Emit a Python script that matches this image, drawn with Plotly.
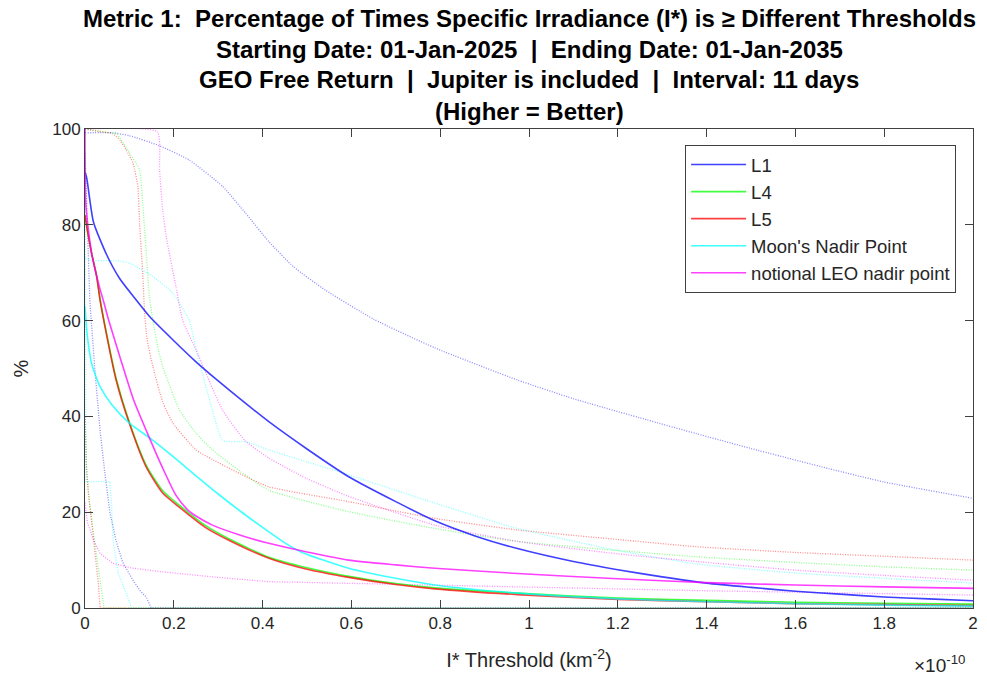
import plotly.graph_objects as go

# ---------------- data (threshold in units of 1e-10 km^-2, value in %) ----------------
# Solid curves
l1_x = [0, 0.004, 0.019, 0.049, 0.078, 0.112, 0.146, 0.2, 0.25, 0.3, 0.35, 0.414, 0.5, 0.594, 0.7, 0.788, 0.88, 0.974, 1.1, 1.2, 1.3, 1.4, 1.5, 1.6, 1.7, 1.8, 1.9, 2.0]
l1_y = [91, 89.7, 80.6, 73.7, 68.8, 64.7, 60.8, 55.8, 51.4, 47.4, 43.6, 38.9, 33.2, 27.4, 22.2, 18.2, 15.0, 12.4, 9.7, 8.0, 6.5, 5.2, 4.3, 3.5, 2.9, 2.3, 1.9, 1.5]

l4_x = [0, 0.005, 0.015, 0.026, 0.034, 0.045, 0.07, 0.1, 0.138, 0.175, 0.213, 0.27, 0.325, 0.414, 0.5, 0.594, 0.7, 0.788, 0.974, 1.2, 1.4, 1.6, 1.8, 2.0]
l4_y = [82, 79, 74, 69.5, 64.5, 59, 48, 38.8, 29.8, 24.5, 21.4, 17.3, 14.4, 10.6, 8.4, 6.6, 5.1, 4.2, 3.1, 2.1, 1.6, 1.2, 1.0, 0.8]

l5_x = [0, 0.005, 0.015, 0.026, 0.034, 0.045, 0.07, 0.1, 0.138, 0.175, 0.213, 0.27, 0.325, 0.414, 0.5, 0.594, 0.7, 0.788, 0.974, 1.2, 1.4, 1.6, 1.8, 2.0]
l5_y = [82, 79, 74, 69.3, 64.2, 58.7, 47.6, 38.5, 29.4, 24, 21, 16.9, 14.1, 10.4, 8.1, 6.4, 4.9, 4.0, 2.8, 1.8, 1.3, 0.9, 0.7, 0.5]

moon_x = [0, 0.005, 0.015, 0.034, 0.06, 0.1, 0.15, 0.2, 0.25, 0.3, 0.35, 0.414, 0.45, 0.489, 0.594, 0.7, 0.788, 0.974, 1.2, 1.4, 1.6, 1.8, 2.0]
moon_y = [63, 57, 51, 46.2, 42.5, 38.6, 35.2, 31.5, 27.6, 23.8, 20.2, 15.9, 13.6, 11.6, 8.3, 6.2, 4.8, 3.1, 1.9, 1.3, 0.9, 0.6, 0.4]

leo_x = [0, 0.002, 0.015, 0.034, 0.041, 0.052, 0.08, 0.11, 0.146, 0.175, 0.205, 0.23, 0.25, 0.287, 0.35, 0.414, 0.5, 0.594, 0.7, 0.788, 0.974, 1.2, 1.4, 1.6, 1.8, 2.0]
leo_y = [100, 84, 74, 66.5, 64.3, 60.5, 52, 43.3, 35.3, 29.2, 23.5, 20.6, 19.2, 17.3, 15.2, 13.5, 11.7, 10.0, 9.0, 8.3, 7.2, 6.1, 5.3, 4.8, 4.4, 4.1]

# Dotted curves (upper set)
l1_dot_x = [0, 0.063, 0.1, 0.168, 0.235, 0.31, 0.362, 0.414, 0.47, 0.541, 0.65, 0.788, 0.974, 1.1, 1.265, 1.377, 1.5, 1.675, 1.8, 2.0]
l1_dot_y = [99.2, 99.2, 98.6, 96.5, 93.5, 88, 82.4, 76.5, 71.2, 66.4, 60.3, 54.3, 47.6, 43.7, 39.3, 36.4, 33.3, 29.1, 26.3, 22.9]

l4_dot_x = [0, 0.05, 0.071, 0.1, 0.123, 0.13, 0.138, 0.145, 0.153, 0.165, 0.175, 0.213, 0.25, 0.287, 0.35, 0.414, 0.594, 0.788, 0.974, 1.2, 1.377, 1.6, 1.8, 2.0]
l4_dot_y = [100, 99.3, 99, 95, 91.4, 84.5, 74, 65, 60, 54, 50.4, 41.3, 36.5, 33, 28.5, 24.6, 20.1, 16.6, 13.9, 12, 10.7, 9.5, 8.6, 7.9]

l5_dot_x = [0, 0.03, 0.063, 0.08, 0.093, 0.108, 0.119, 0.123, 0.13, 0.134, 0.14, 0.153, 0.175, 0.198, 0.25, 0.287, 0.35, 0.414, 0.594, 0.788, 0.974, 1.2, 1.377, 1.6, 1.8, 2.0]
l5_dot_y = [100, 99.5, 99, 97.5, 95.6, 92.9, 88, 80, 70, 62, 56, 50.4, 43, 38.6, 33, 31, 28, 25.3, 22.2, 18.7, 16.3, 14.3, 12.8, 11.6, 10.8, 10.0]

moon_dot_x = [0, 0.002, 0.071, 0.1, 0.153, 0.198, 0.235, 0.25, 0.27, 0.287, 0.31, 0.362, 0.414, 0.5, 0.594, 0.788, 0.974, 1.2, 1.377, 1.6, 1.8, 2.0]
moon_dot_y = [100, 73, 72.5, 72, 69.2, 65.7, 60, 54, 47, 41.3, 35, 34.7, 33, 30.5, 27.8, 21.9, 16.6, 12, 9.2, 7.3, 6.2, 5.2]

leo_dot_x = [0, 0.163, 0.168, 0.175, 0.183, 0.205, 0.22, 0.25, 0.31, 0.36, 0.414, 0.5, 0.594, 0.788, 0.974, 1.2, 1.377, 1.6, 1.8, 2.0]
leo_dot_y = [100, 99.4, 91.4, 83, 77.5, 67, 60, 53.9, 41.3, 35, 31.3, 27, 23.3, 17.3, 13.9, 11.3, 9.7, 7.9, 6.8, 5.8]

# Dotted curves (lower set)
l1_low_x = [0, 0.005, 0.011, 0.022, 0.034, 0.045, 0.056, 0.07, 0.085, 0.108, 0.125, 0.138, 0.149, 2.0]
l1_low_y = [95, 80, 64, 50, 37, 28, 20, 14, 9.5, 5.8, 3.5, 2.3, 0, 0]

l4_low_x = [0, 0.004, 0.011, 0.026, 0.037, 0.043, 2.0]
l4_low_y = [40, 28, 21.2, 10.7, 3.8, 0, 0]

l5_low_x = [0, 0.003, 0.007, 0.019, 0.03, 0.034, 2.0]
l5_low_y = [40, 30, 24.6, 14.2, 5.2, 0, 0]

moon_low_x = [0, 0.002, 0.056, 0.06, 0.063, 0.075, 0.093, 0.105, 2.0]
moon_low_y = [100, 26.4, 26.4, 21.2, 14.2, 7.2, 3.1, 0, 0]

leo_low_x = [0, 0.005, 0.019, 0.034, 0.063, 0.108, 0.168, 0.287, 0.414, 0.6, 0.929, 1.4, 2.0]
leo_low_y = [22, 18, 14.2, 11.4, 9.3, 8.3, 7.6, 6.5, 5.5, 5.1, 4.5, 3.6, 2.7]

names = ["L1", "L4", "L5", "Moon's Nadir Point", "notional LEO nadir point"]
colors = ["#0000ff", "#00ff00", "#ff0000", "#00ffff", "#ff00ff"]
solid = [(l1_x, l1_y), (l4_x, l4_y), (l5_x, l5_y), (moon_x, moon_y), (leo_x, leo_y)]
dotted_hi = [(l1_dot_x, l1_dot_y), (l4_dot_x, l4_dot_y), (l5_dot_x, l5_dot_y), (moon_dot_x, moon_dot_y), (leo_dot_x, leo_dot_y)]
dotted_lo = [(l1_low_x, l1_low_y), (l4_low_x, l4_low_y), (l5_low_x, l5_low_y), (moon_low_x, moon_low_y), (leo_low_x, leo_low_y)]

fig = go.Figure()
for (x, y), c in zip(dotted_hi, colors):
    fig.add_trace(go.Scatter(x=x, y=y, mode="lines",
                             line=dict(color=c, width=1.3, dash="1px,1.5px", shape="spline", smoothing=0.5),
                             opacity=0.45, showlegend=False, hoverinfo="skip"))
for (x, y), c in zip(dotted_lo, colors):
    fig.add_trace(go.Scatter(x=x, y=y, mode="lines",
                             line=dict(color=c, width=1.3, dash="1px,1.5px"),
                             opacity=0.45, showlegend=False, hoverinfo="skip"))
for (x, y), c, n in zip(solid, colors, names):
    fig.add_trace(go.Scatter(x=x, y=y, mode="lines", name=n,
                             line=dict(color=c, width=1.6, shape="spline", smoothing=0.6),
                             opacity=0.75))

L, R, T, B = 85, 9, 129, 79
H = 687 - T - B
def py(p):
    return (687 - B - p) / H

narrow = "Liberation Sans Narrow, Arial Narrow, Liberation Sans, Arial"
title_lines = [
    "Metric 1:  Percentage of Times Specific Irradiance (I*) is \u2265 Different Thresholds",
    "Starting Date: 01-Jan-2025  |  Ending Date: 01-Jan-2035",
    "GEO Free Return  |  Jupiter is included  |  Interval: 11 days",
    "(Higher = Better)",
]
title_y = [18, 49, 80, 111]
annotations = [dict(text="<b>%s</b>" % t, x=0.5, y=py(yy), xref="paper", yref="paper",
                    xanchor="center", yanchor="middle", showarrow=False,
                    font=dict(family=narrow, size=24, color="black")) for t, yy in zip(title_lines, title_y)]
annotations.append(dict(text="\u00d710<sup>-10</sup>", x=(944 - L) / (987 - L - R), y=py(664),
                        xref="paper", yref="paper", xanchor="center", yanchor="middle", showarrow=False,
                        font=dict(family=narrow, size=19, color="#262626")))

axis_common = dict(showline=True, linecolor="#404040", linewidth=1, mirror="ticks", ticks="inside",
                   ticklen=8, tickcolor="#404040", showgrid=False, zeroline=False,
                   tickfont=dict(family=narrow, size=17, color="#262626"))

fig.update_layout(
    width=987, height=687,
    margin=dict(l=L, r=R, t=T, b=B, pad=0),
    paper_bgcolor="white", plot_bgcolor="white",
    xaxis=dict(range=[0, 2], tickvals=[0, 0.2, 0.4, 0.6, 0.8, 1, 1.2, 1.4, 1.6, 1.8, 2],
               ticktext=["0", "0.2", "0.4", "0.6", "0.8", "1", "1.2", "1.4", "1.6", "1.8", "2"],
               title=dict(text="I* Threshold (km<sup>-2</sup>)", standoff=20,
                          font=dict(family=narrow, size=20, color="#262626")),
               **axis_common),
    yaxis=dict(range=[0, 100], tickvals=[0, 20, 40, 60, 80, 100],
               title=dict(text="%", standoff=18, font=dict(family=narrow, size=20, color="#262626")),
               **axis_common),
    legend=dict(x=(961 - L) / (987 - L - R), y=py(145), xanchor="right", yanchor="top",
                bgcolor="white", bordercolor="#404040", borderwidth=1,
                font=dict(family="Liberation Sans, Arial", size=18.5, color="#262626"),
                itemwidth=55, tracegroupgap=0),
    annotations=annotations,
    showlegend=True,
)

fig.write_html("out.html")
